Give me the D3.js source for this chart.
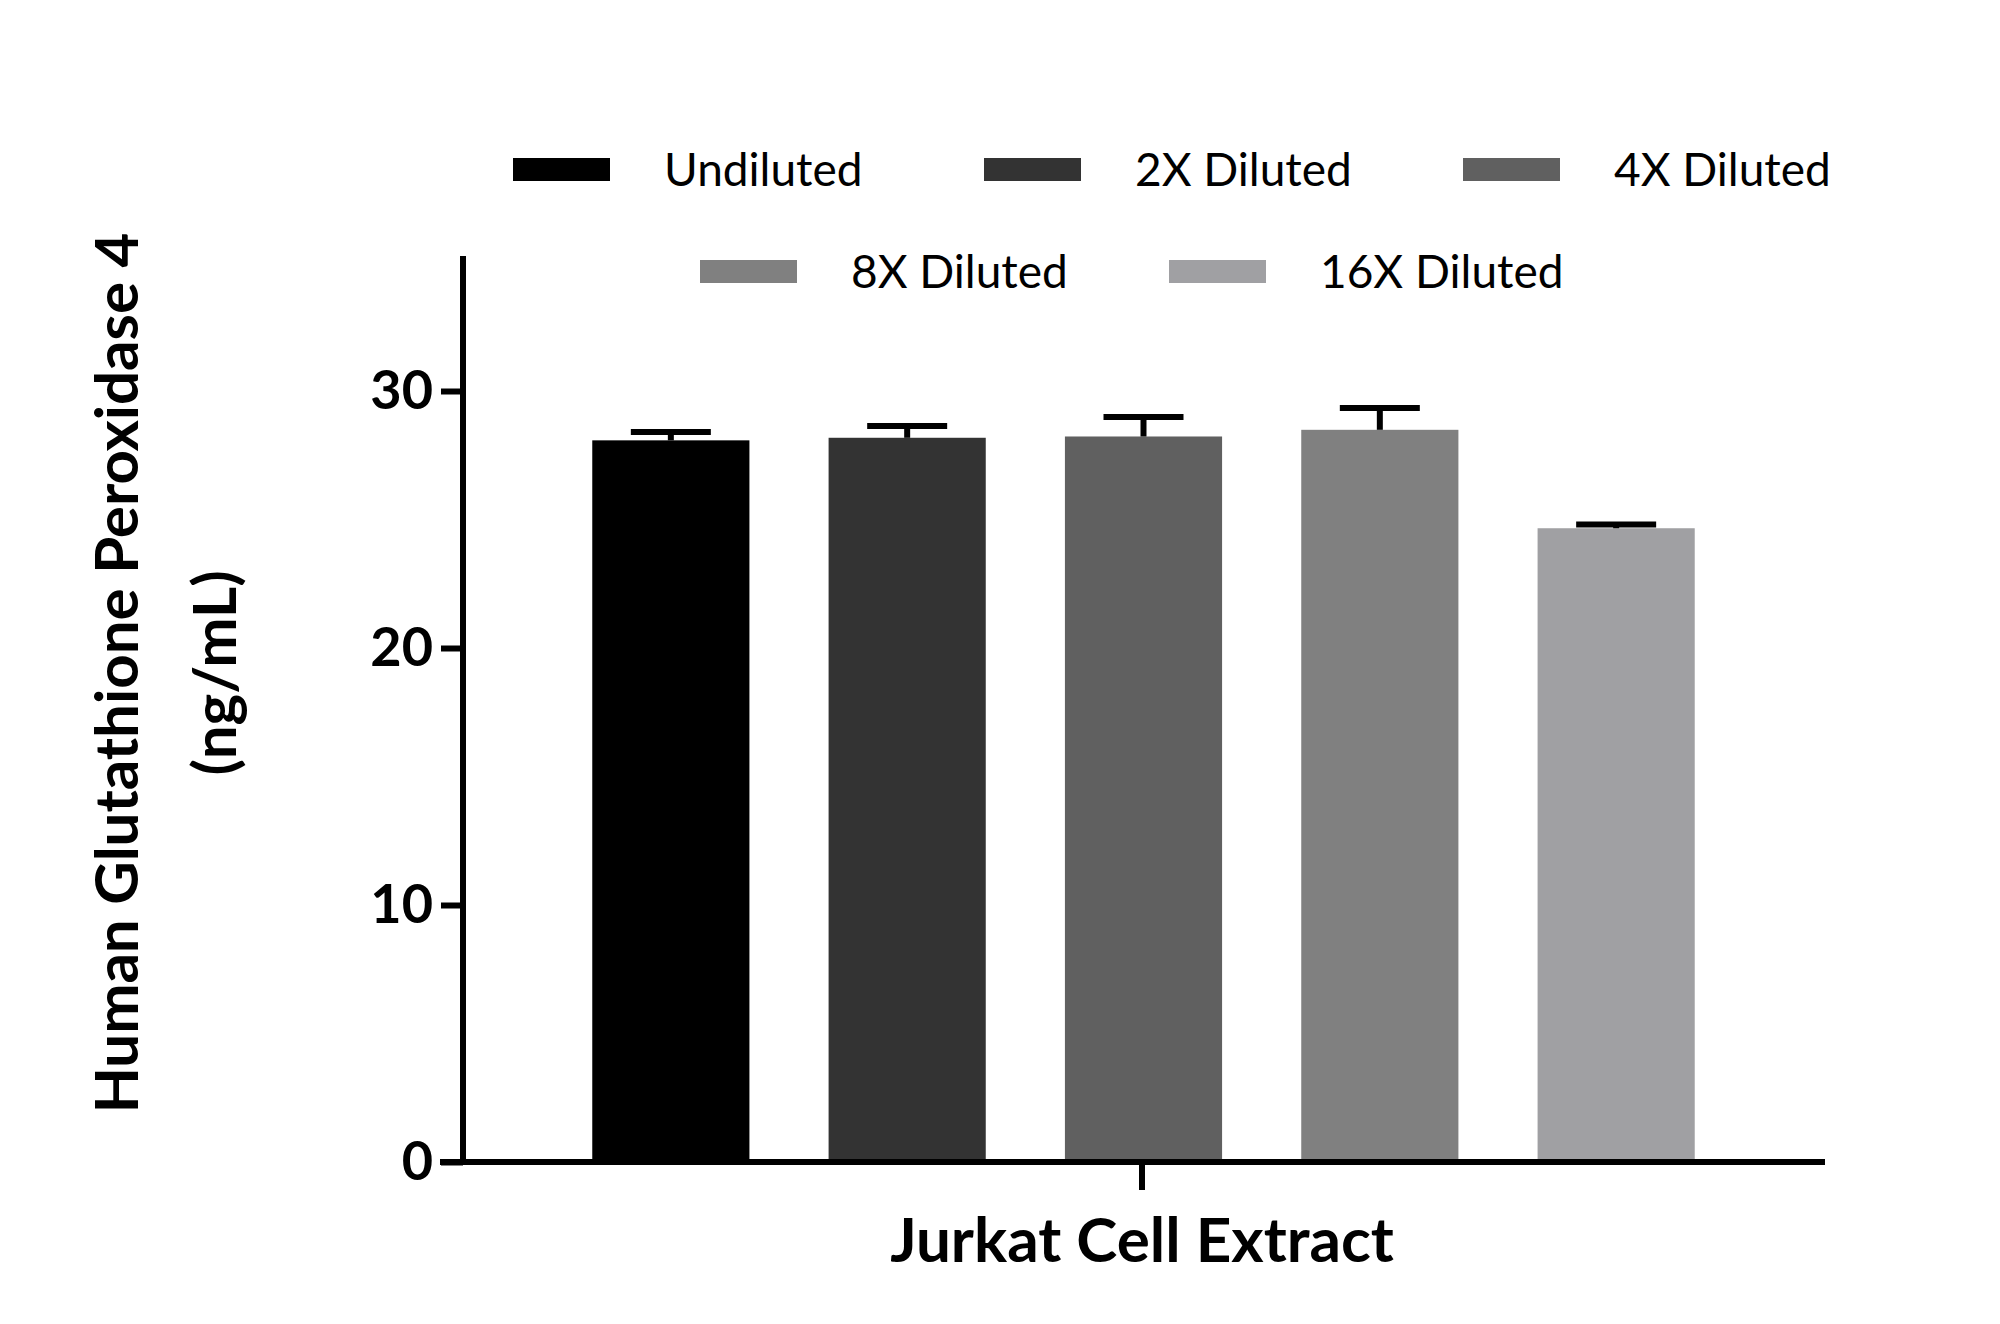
<!DOCTYPE html>
<html><head><meta charset="utf-8">
<script src="https://cdn.jsdelivr.net/npm/d3@7"></script>
<style>body{margin:0;background:#fff}</style>
</head><body>
<svg id="chart" width="2000" height="1324"></svg>
<script>
// data
const categories = ['Undiluted','2X Diluted','4X Diluted','8X Diluted','16X Diluted'];
const means = [28.08, 28.18, 28.23, 28.49, 24.66];
const errTop = [28.4, 28.64, 28.99, 29.34, 24.81];
const colors = ['#000000','#333333','#606060','#808080','#a0a0a3'];
const yTicks = [0,10,20,30];

const svg = d3.select('#chart');
const font = "'Lato','DejaVu Sans',sans-serif";
const plotLeft = 463, plotBottom = 1162, plotTop = 256, plotRight = 1825;

const y = d3.scaleLinear().domain([0,35]).range([plotBottom, plotBottom - 35*25.7]);
const x = d3.scaleBand().domain(categories).range([545, 1742]).paddingInner(0.335).paddingOuter(0.2);

// bars
svg.selectAll('.bar').data(categories).enter().append('rect')
  .attr('x', d => x(d)).attr('width', x.bandwidth())
  .attr('y', (d,i) => y(means[i])).attr('height', (d,i) => plotBottom - y(means[i]))
  .attr('fill', (d,i) => colors[i]);

// error bars
const eb = svg.append('g').attr('stroke','#000').attr('stroke-width',6);
categories.forEach((c,i) => {
  const cx = x(c) + x.bandwidth()/2;
  eb.append('line').attr('x1',cx).attr('x2',cx).attr('y1',y(means[i])).attr('y2',y(errTop[i]));
  eb.append('line').attr('x1',cx-40).attr('x2',cx+40).attr('y1',y(errTop[i])).attr('y2',y(errTop[i]));
});

// y axis
const yAxis = svg.append('g').attr('transform',`translate(${plotLeft},0)`)
  .call(d3.axisLeft(y).tickValues(yTicks).tickSize(22).tickPadding(8).tickSizeOuter(0));
yAxis.select('.domain').attr('d',`M0,${plotTop}V${plotBottom}`).attr('stroke-width',6);
yAxis.selectAll('.tick line').attr('stroke-width',6);
yAxis.selectAll('text').attr('font-family',font).attr('font-weight','bold').attr('font-size',54).attr('fill','#000');

// x axis
svg.append('line').attr('x1',440).attr('x2',plotRight).attr('y1',plotBottom).attr('y2',plotBottom)
  .attr('stroke','#000').attr('stroke-width',6);
svg.append('line').attr('x1',1142).attr('x2',1142).attr('y1',plotBottom).attr('y2',1190)
  .attr('stroke','#000').attr('stroke-width',6);
svg.append('text').attr('x',1142).attr('y',1262).attr('text-anchor','middle')
  .attr('font-family',font).attr('font-weight','bold').attr('font-size',62).text('Jurkat Cell Extract');

// y title
const yt = svg.append('text').attr('transform','translate(0,673) rotate(-90)')
  .attr('text-anchor','middle').attr('font-family',font).attr('font-weight','bold').attr('font-size',60);
yt.append('tspan').attr('x',0).attr('y',138).text('Human Glutathione Peroxidase 4');
yt.append('tspan').attr('x',0).attr('y',236).text('(ng/mL)');

// legend
const legendPos = [[513,170],[984,170],[1463,170],[700,272],[1169,272]];
categories.forEach((c,i) => {
  const [lx,ly] = legendPos[i];
  svg.append('rect').attr('x',lx).attr('y',ly-12).attr('width',97).attr('height',23).attr('fill',colors[i]);
  svg.append('text').attr('x',lx+151).attr('y',ly+16).attr('font-family',font)
    .attr('font-size',46).attr('fill','#000').text(c);
});
</script>
</body></html>
